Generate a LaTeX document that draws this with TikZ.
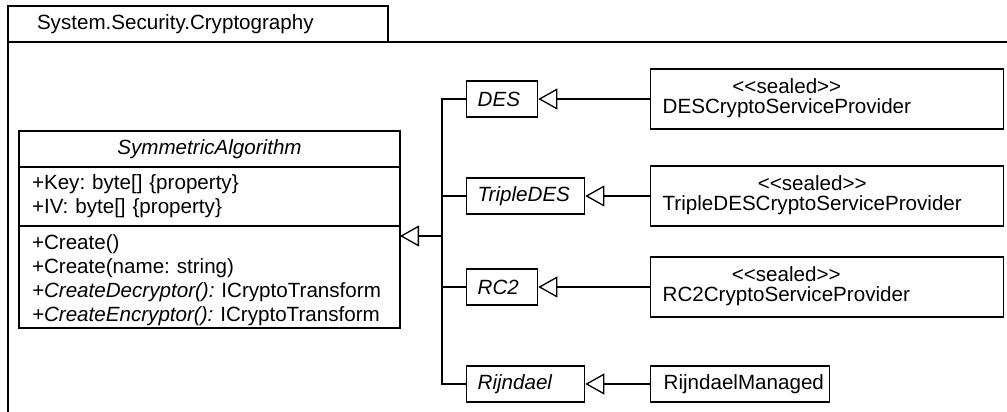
\documentclass[tikz,border=0pt]{standalone}
\usepackage{fontspec}
\setmainfont{Liberation Sans}
\usetikzlibrary{arrows.meta,positioning}
\frenchspacing

\newcommand{\stereotype}[1]{<\kern0pt<#1>\kern0pt>}

\begin{document}
\begin{tikzpicture}[x=1pt,y=-1pt,line width=1.3pt,font=\fontsize{20.6}{24}\selectfont,
  tabbox/.style={draw,outer sep=0pt,minimum width=380pt,minimum height=36pt,text width=322pt,inner xsep=29pt,align=left},
  compart/.style={draw,outer sep=0pt,text width=355pt,inner xsep=13pt,align=left},
  classbox/.style={draw,anchor=west,text width=#1,inner xsep=11pt,minimum height=36pt,align=left,font=\fontsize{20.6}{24}\selectfont\itshape},
  implbox/.style={draw,anchor=west,text width=#1,inner xsep=13pt,minimum height=36pt,align=left},
  sealedbox/.style={draw,anchor=west,text width=329pt,inner xsep=12pt,minimum height=60pt,align=left,font=\fontsize{20.6}{20}\selectfont},
  genarrow/.style={-{Triangle[open,length=19pt,width=21pt]}}]
\useasboundingbox (0,0) rectangle (1007,412);
% package frame
\node[tabbox,anchor=north west] (pkgtab) at (8,6) {System.Security.Cryptography};
\coordinate (pkgend) at (1007,42);
\coordinate (pkgfoot) at (8,412);
\draw (pkgfoot) -- (pkgtab.south west) -- (pkgend);
% abstract base class
\node[compart,anchor=north,minimum height=36pt,align=center,font=\fontsize{20.6}{24}\selectfont\itshape] (symtitle) at (209.5,131) {SymmetricAlgorithm};
\node[compart,below=0pt of symtitle,minimum height=59pt] (symattr) {+Key: byte[] \{property\}\\+IV: byte[] \{property\}};
\node[compart,below=0pt of symattr,minimum height=102pt,text depth=70pt] (symops) {+Create()\\+Create(name: string)\\\textit{+CreateDecryptor():} ICryptoTransform\\\textit{+CreateEncryptor():} ICryptoTransform};
% algorithm classes
\node[classbox=49pt] (des) at (466,99) {DES};
\node[classbox=96pt] (tripledes) at (466,196) {TripleDES};
\node[classbox=49pt] (rc2) at (466,287) {RC2};
\node[classbox=96pt] (rijndael) at (466,384) {Rijndael};
% implementations
\node[sealedbox] (descsp) at (650,99) {\begin{tabular}{@{}c@{}}\stereotype{sealed}\\DESCryptoServiceProvider\end{tabular}};
\node[sealedbox] (tripledescsp) at (650,196) {\begin{tabular}{@{}c@{}}\stereotype{sealed}\\TripleDESCryptoServiceProvider\end{tabular}};
\node[sealedbox] (rc2csp) at (650,287) {\begin{tabular}{@{}c@{}}\stereotype{sealed}\\RC2CryptoServiceProvider\end{tabular}};
\node[implbox=153pt] (rijndaelmanaged) at (650,384) {RijndaelManaged};
% generalizations
\coordinate (bus) at (442,236);
\draw[genarrow] (bus) -- (symops.east |- bus);
\draw (des.west) -| (bus);
\draw (rijndael.west) -| (bus);
\draw (tripledes.west) -- (tripledes.west -| bus);
\draw (rc2.west) -- (rc2.west -| bus);
\draw[genarrow] (descsp.west) -- (des.east);
\draw[genarrow] (tripledescsp.west) -- (tripledes.east);
\draw[genarrow] (rc2csp.west) -- (rc2.east);
\draw[genarrow] (rijndaelmanaged.west) -- (rijndael.east);
\end{tikzpicture}
\end{document}
